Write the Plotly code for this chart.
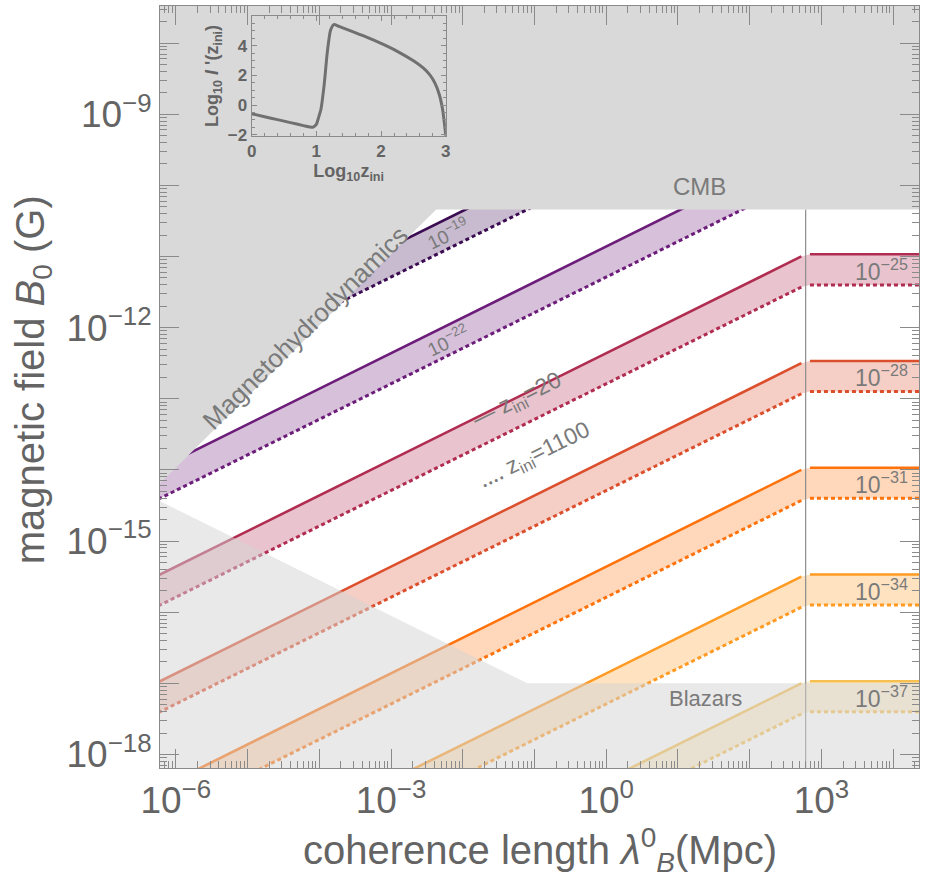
import numpy as np
import plotly.graph_objects as go

# ---------------------------------------------------------------------------
# Axis limits (log10 of coherence length in Mpc, log10 of field in Gauss)
log_lambda_range = [-6.22, 4.36]
log_B_range = [-18.19, -7.48]

# Bands: energy-transfer parameter labels, field at lambda = 1 Mpc
eps_exponents = [-19, -22, -25, -28, -31, -34, -37]
logB_z20 = [-9.36, -10.86, -12.36, -13.86, -15.36, -16.86, -18.36]     # z_ini = 20 (solid)
logB_z1100 = [-9.79, -11.29, -12.79, -14.29, -15.79, -17.29, -18.79]   # z_ini = 1100 (dotted)
line_colors = ["#3b0c52", "#6c1d79", "#b02c50", "#dc4f2d", "#ff720c", "#ff9a22", "#f6bf50"]
spectral_slope = 0.5          # B ~ lambda^(1/2) below the break
log_lambda_break = 2.78       # beyond this the field is flat in lambda

# Exclusion limits
cmb_logB = -10.34             # CMB upper bound
mhd_logB_at_1Mpc = -7.97      # MHD bound, B ~ lambda
blazar_floor_logB = -17.0     # blazar lower bound
blazar_knee_loglambda = -1.1  # below the knee, B ~ lambda^(-1/2)

# Inset: log10 I'(z_ini) versus log10 z_ini
inset_log_z = [0.0, 0.2, 0.4, 0.6, 0.8, 0.9, 0.95, 1.0, 1.03, 1.07, 1.12, 1.17, 1.22, 1.27,
               1.35, 1.5, 1.75, 2.0, 2.25, 2.5, 2.65, 2.75, 2.83, 2.9, 2.95, 2.98, 3.0]
inset_log_I = [-0.58, -0.78, -0.98, -1.18, -1.38, -1.48, -1.48, -1.3, -0.9, -0.3, 1.35, 3.6,
               5.05, 5.42, 5.3, 5.05, 4.62, 4.15, 3.62, 2.98, 2.5, 2.05, 1.5, 0.7, -0.3, -1.3, -2.1]

GRAY_TEXT = "#7a7a7a"
AXIS_TEXT = "#646464"
TICK_COLOR = "#8a8a8a"
FONT = "Liberation Sans"


def hex_rgba(h, a):
    h = h.lstrip("#")
    return "rgba(%d,%d,%d,%.2f)" % (int(h[0:2], 16), int(h[2:4], 16), int(h[4:6], 16), a)


fig = go.Figure()

lo = log_lambda_range[0] - 0.2
hi = log_lambda_range[1] + 0.2
l_slope_end = log_lambda_break - 0.06
l_flat_start = log_lambda_break + 0.06

# ---------------------------------------------------------------------------
# Bands between z_ini = 20 and z_ini = 1100
for b20, b1100, col in zip(logB_z20, logB_z1100, line_colors):
    s = lambda L, c=b20: c + spectral_slope * L
    d = lambda L, c=b1100: c + spectral_slope * L
    s_flat = s(log_lambda_break)
    d_flat = d(log_lambda_break)

    poly_L = [lo, l_slope_end, l_flat_start, hi, hi, l_flat_start, l_slope_end, lo]
    poly_B = [s(lo), s(l_slope_end), s_flat, s_flat, d_flat, d_flat, d(l_slope_end), d(lo)]
    fig.add_trace(go.Scatter(
        x=[10 ** v for v in poly_L], y=[10 ** v for v in poly_B],
        mode="lines", fill="toself", fillcolor=hex_rgba(col, 0.28),
        line=dict(width=0), hoverinfo="skip", showlegend=False))

    fig.add_trace(go.Scatter(
        x=[10 ** lo, 10 ** l_slope_end, None, 10 ** l_flat_start, 10 ** hi],
        y=[10 ** s(lo), 10 ** s(l_slope_end), None, 10 ** s_flat, 10 ** s_flat],
        mode="lines", line=dict(color=col, width=2.6), showlegend=False, hoverinfo="skip"))
    fig.add_trace(go.Scatter(
        x=[10 ** lo, 10 ** l_slope_end, None, 10 ** l_flat_start, 10 ** hi],
        y=[10 ** d(lo), 10 ** d(l_slope_end), None, 10 ** d_flat, 10 ** d_flat],
        mode="lines", line=dict(color=col, width=3, dash="4px,3px"),
        showlegend=False, hoverinfo="skip"))

# Vertical marker at the break scale
fig.add_trace(go.Scatter(
    x=[10 ** log_lambda_break, 10 ** log_lambda_break],
    y=[10 ** (log_B_range[0] - 0.2), 10 ** cmb_logB],
    mode="lines", line=dict(color="#8c8c8c", width=1.2), showlegend=False, hoverinfo="skip"))

# ---------------------------------------------------------------------------
# CMB + MHD excluded region (opaque)
top = log_B_range[1] + 0.3
l_mhd_cmb = cmb_logB - mhd_logB_at_1Mpc
ex_L = [lo, l_mhd_cmb, hi, hi, lo]
ex_B = [mhd_logB_at_1Mpc + lo, cmb_logB, cmb_logB, top, top]
fig.add_trace(go.Scatter(
    x=[10 ** v for v in ex_L], y=[10 ** v for v in ex_B],
    mode="lines", fill="toself", fillcolor="#d9d9d9", line=dict(width=0),
    showlegend=False, hoverinfo="skip"))

# Blazar excluded region (translucent)
bottom = log_B_range[0] - 0.3
bl_L = [lo, blazar_knee_loglambda, hi, hi, lo]
bl_B = [blazar_floor_logB - 0.5 * (lo - blazar_knee_loglambda), blazar_floor_logB,
        blazar_floor_logB, bottom, bottom]
fig.add_trace(go.Scatter(
    x=[10 ** v for v in bl_L], y=[10 ** v for v in bl_B],
    mode="lines", fill="toself", fillcolor="rgba(212,212,212,0.5)", line=dict(width=0),
    showlegend=False, hoverinfo="skip"))

# Placeholder trace so the overlay axes carrying the fine log ticks are drawn
fig.add_trace(go.Scatter(x=[], y=[], xaxis="x3", yaxis="y3", mode="markers",
                         showlegend=False, hoverinfo="skip"))

# ---------------------------------------------------------------------------
# Inset curve
fig.add_trace(go.Scatter(
    x=inset_log_z, y=inset_log_I, xaxis="x2", yaxis="y2",
    mode="lines", line=dict(color="#707070", width=3, shape="spline", smoothing=0.6),
    showlegend=False, hoverinfo="skip"))

# ---------------------------------------------------------------------------
# Axes
decades_x = list(range(-7, 6))
decades_y = list(range(-19, -6))
x_labelled = [k for k in decades_x if k % 3 == 0]
y_labelled = [k for k in decades_y if k % 3 == 0]
x_major = [10.0 ** k for k in x_labelled]
x_text = [("10<sup>%d</sup>" % k).replace("-", "\u2212") for k in x_labelled]
y_major = [10.0 ** k for k in y_labelled]
y_text = ["10<sup>\u2212%d</sup>" % (-k) for k in y_labelled]
x_other_decades = [10.0 ** k for k in decades_x if k % 3 != 0]
y_other_decades = [10.0 ** k for k in decades_y if k % 3 != 0]
x_fine = [m * 10.0 ** k for k in decades_x for m in range(2, 10)]
y_fine = [m * 10.0 ** k for k in decades_y for m in range(2, 10)]

axis_common = dict(
    type="log", showgrid=False, zeroline=False, showline=True, linecolor=TICK_COLOR,
    linewidth=1, mirror="ticks", ticks="inside", ticklen=19, tickwidth=1, tickcolor=TICK_COLOR,
    tickfont=dict(family=FONT, size=37, color=AXIS_TEXT),
)
fine_common = dict(
    type="log", showgrid=False, zeroline=False, showline=True, linecolor=TICK_COLOR,
    linewidth=1, mirror="ticks", ticks="inside", ticklen=7, tickwidth=1, tickcolor=TICK_COLOR,
    showticklabels=False,
)

fig.update_layout(
    width=929, height=893,
    margin=dict(l=160, r=7, t=5, b=125),
    paper_bgcolor="white", plot_bgcolor="rgba(0,0,0,0)",
    xaxis=dict(range=log_lambda_range, tickvals=x_major, ticktext=x_text,
               minor=dict(tickvals=x_other_decades, ticks="inside", ticklen=19,
                          tickcolor=TICK_COLOR),
               **axis_common),
    yaxis=dict(range=log_B_range, tickvals=y_major, ticktext=y_text,
               minor=dict(tickvals=y_other_decades, ticks="inside", ticklen=19,
                          tickcolor=TICK_COLOR),
               **axis_common),
    xaxis3=dict(range=log_lambda_range, overlaying="x", anchor="y3", side="bottom",
                tickvals=x_fine, **fine_common),
    yaxis3=dict(range=log_B_range, overlaying="y", anchor="x3", side="left",
                tickvals=y_fine, **fine_common),
    xaxis2=dict(domain=[0.1207, 0.3766], anchor="y2", range=[0, 3],
                tickvals=[0, 1, 2, 3], showgrid=False, zeroline=False, showline=True,
                linecolor=TICK_COLOR, mirror="ticks", ticks="inside", ticklen=5,
                tickcolor=TICK_COLOR,
                minor=dict(dtick=0.2, ticks="inside", ticklen=3, tickcolor=TICK_COLOR),
                tickfont=dict(family=FONT, size=17, color=AXIS_TEXT, weight="bold"),
                title=dict(text="Log<sub>10</sub>z<sub>ini</sub>", standoff=2,
                           font=dict(family=FONT, size=18, color=AXIS_TEXT, weight="bold"))),
    yaxis2=dict(domain=[0.8296, 0.9869], anchor="x2", range=[-2.07, 6],
                tickvals=[-2, 0, 2, 4], ticktext=["\u22122", "0", "2", "4"],
                showgrid=False, zeroline=False, showline=True,
                linecolor=TICK_COLOR, mirror="ticks", ticks="inside", ticklen=5,
                tickcolor=TICK_COLOR,
                minor=dict(dtick=0.5, ticks="inside", ticklen=3, tickcolor=TICK_COLOR),
                tickfont=dict(family=FONT, size=17, color=AXIS_TEXT, weight="bold"),
                title=dict(text="Log<sub>10</sub> <i>I</i> '(z<sub>ini</sub>)", standoff=4,
                           font=dict(family=FONT, size=18, color=AXIS_TEXT, weight="bold"))),
)

# ---------------------------------------------------------------------------
# Text
ann = []
ann.append(dict(xref="paper", yref="paper", x=-0.203, y=0.51, xanchor="left", textangle=-90,
                text="magnetic field <i>B</i><sub>0</sub> (G)", showarrow=False,
                font=dict(family=FONT, size=40, color=AXIS_TEXT)))
ann.append(dict(xref="paper", yref="paper", x=0.501, y=-0.108, yanchor="middle",
                text="coherence length <i>\u03bb</i><sup>0</sup><sub><i>B</i></sub>(Mpc)",
                showarrow=False, font=dict(family=FONT, size=40, color=AXIS_TEXT)))

ann.append(dict(x=1.3, y=cmb_logB + 0.32, text="CMB", showarrow=False,
                font=dict(family=FONT, size=24, color=GRAY_TEXT)))
ann.append(dict(x=1.38, y=blazar_floor_logB - 0.22, text="Blazars", showarrow=False,
                font=dict(family=FONT, size=22, color=GRAY_TEXT)))
ann.append(dict(x=-4.2, y=-12.0, text="Magnetohydrodynamics", showarrow=False,
                textangle=-44.7, font=dict(family=FONT, size=26, color=GRAY_TEXT)))

band_angle = -np.degrees(np.arctan(spectral_slope * 71.1 / 72.0))
for i, e in enumerate(eps_exponents):
    label = "10<sup>\u2212%d</sup>" % (-e)
    mid_flat = 0.5 * (logB_z20[i] + logB_z1100[i]) + spectral_slope * log_lambda_break
    if i < 2:
        Lx = -2.2
        ann.append(dict(x=Lx, y=0.5 * (logB_z20[i] + logB_z1100[i]) + spectral_slope * Lx,
                        text=label, showarrow=False, textangle=band_angle,
                        font=dict(family=FONT, size=19, color=GRAY_TEXT)))
    else:
        ann.append(dict(x=3.84, y=mid_flat, text=label, showarrow=False,
                        font=dict(family=FONT, size=23, color=GRAY_TEXT)))

ann.append(dict(x=-1.25, y=-13.02, text="\u2014 z<sub>ini</sub>=20", showarrow=False,
                textangle=band_angle, font=dict(family=FONT, size=23, color=GRAY_TEXT)))
ann.append(dict(x=-1.0, y=-13.8, text="\u2025\u2025 z<sub>ini</sub>=1100", showarrow=False,
                textangle=band_angle, font=dict(family=FONT, size=23, color=GRAY_TEXT)))

fig.update_layout(annotations=ann)

fig.write_html("out.html")
